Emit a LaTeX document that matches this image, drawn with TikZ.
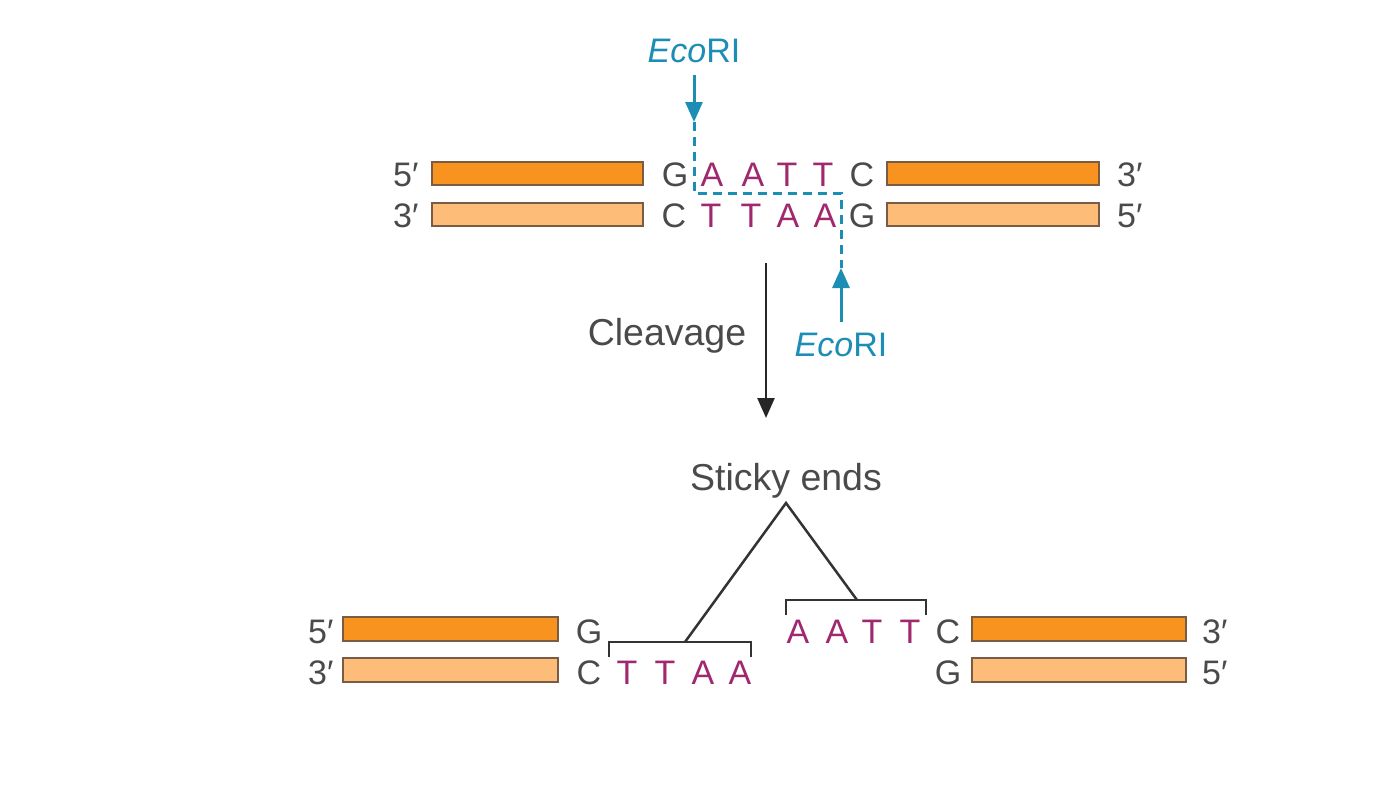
\documentclass[tikz,border=0pt]{standalone}
\usepackage{fontspec}
\setmainfont{Liberation Sans}
\usetikzlibrary{arrows.meta}
\definecolor{dorange}{HTML}{F7931E}
\definecolor{lorange}{HTML}{FDBD78}
\definecolor{barline}{HTML}{7A5C44}
\definecolor{seqmag}{HTML}{A0286E}
\definecolor{ecocyan}{HTML}{1C8DB5}
\definecolor{txtgray}{HTML}{4A4A4A}
\begin{document}
\begin{tikzpicture}[x=1pt,y=-1pt,
  lab/.style={anchor=base, inner sep=0pt, text=txtgray, font=\fontsize{34}{40}\selectfont},
  labw/.style={lab, anchor=base west},
  nt/.style={lab, text=seqmag},
  biglab/.style={anchor=base, inner sep=0pt, text=txtgray, font=\fontsize{37.5}{44}\selectfont},
  eco/.style={anchor=base, inner sep=0pt, text=ecocyan, font=\fontsize{34}{40}\selectfont},
  darkbar/.style={draw=barline, fill=dorange, line width=2pt, inner sep=0pt},
  lightbar/.style={draw=barline, fill=lorange, line width=2pt, inner sep=0pt},
  cyanarrow/.style={draw=ecocyan, line width=3pt, -{Triangle[length=20pt,width=17pt]}},
  cutline/.style={draw=ecocyan, line width=3pt, dash pattern=on 9pt off 6pt},
  mainarrow/.style={draw=black!85, line width=2.5pt, -{Triangle[length=20pt,width=17pt]}},
  brk/.style={draw=black!80, line width=2.5pt},
]
\path[use as bounding box] (0,0) rectangle (1398,795);

% ---------- top duplex ----------
\node[darkbar, minimum width=211pt, minimum height=23pt] (tl1) at (537.5,173.5) {};
\node[lightbar, minimum width=211pt, minimum height=23pt] (tl2) at (537.5,214.5) {};
\node[darkbar, minimum width=212pt, minimum height=23pt] (tr1) at (993,173.5) {};
\node[lightbar, minimum width=212pt, minimum height=23pt] (tr2) at (993,214.5) {};
\node[labw] (tp1) at (393,186) {5′};
\node[labw] (tp2) at (393,227) {3′};
\node[labw] (tp3) at (1117,186) {3′};
\node[labw] (tp4) at (1117,227) {5′};

\node[lab] (ta0) at (675,186) {G};
\foreach \x/\l/\n in {712/A/ta1, 753/A/ta2, 787/T/ta3, 823/T/ta4}
  \node[nt] (\n) at (\x,186) {\l};
\node[lab] (ta5) at (862,186) {C};

\node[lab] (tb0) at (674,227) {C};
\foreach \x/\l/\n in {711/T/tb1, 751/T/tb2, 788/A/tb3, 825/A/tb4}
  \node[nt] (\n) at (\x,227) {\l};
\node[lab] (tb5) at (862,227) {G};

% ---------- EcoRI cuts ----------
\node[eco] (eco1) at (694,62) {\textit{Eco}RI};
\coordinate (cutA) at (694,122);
\coordinate (cutB) at (841,268);
\draw[cyanarrow] ([yshift=-12pt]eco1.south) -- (cutA);
\draw[cutline] (cutA) -- (694,193) -- (841,193) -- (cutB);
\node[eco] (eco2) at (841,356) {\textit{Eco}RI};
\draw[cyanarrow] ([yshift=10pt]eco2.north) -- (cutB);

% ---------- cleavage arrow ----------
\coordinate (arrA) at (766,263);
\coordinate (arrB) at (766,418);
\draw[mainarrow] (arrA) -- (arrB);
\node[biglab] (cleav) at (667,345) {Cleavage};

% ---------- sticky ends ----------
\node[biglab] (sticky) at (786,490) {Sticky ends};
\coordinate (apex) at (786,503);
\coordinate (bl) at (685,642);
\coordinate (br) at (857,600);
\draw[brk] (609,657) -- (609,642) -- (751,642) -- (751,657);
\draw[brk] (786,615) -- (786,600) -- (926,600) -- (926,615);
\draw[brk] (bl) -- (apex) -- (br);

% ---------- bottom left fragment ----------
\node[darkbar, minimum width=215pt, minimum height=24pt] (bl1) at (450.5,629) {};
\node[lightbar, minimum width=215pt, minimum height=24pt] (bl2) at (450.5,670) {};
\node[labw] (bp1) at (308,643) {5′};
\node[labw] (bp2) at (308,684) {3′};
\node[lab] (bg1) at (589,643) {G};
\node[lab] (bc1) at (589,684) {C};
\foreach \x/\l/\n in {627/T/bt1, 665/T/bt2, 703/A/bt3, 740/A/bt4}
  \node[nt] (\n) at (\x,684) {\l};

% ---------- bottom right fragment ----------
\foreach \x/\l/\n in {798/A/ba1, 837/A/ba2, 872/T/ba3, 910/T/ba4}
  \node[nt] (\n) at (\x,643) {\l};
\node[lab] (bc2) at (948,643) {C};
\node[lab] (bg2) at (948,684) {G};
\node[darkbar, minimum width=214pt, minimum height=24pt] (br1) at (1079,629) {};
\node[lightbar, minimum width=214pt, minimum height=24pt] (br2) at (1079,670) {};
\node[labw] (bp3) at (1202,643) {3′};
\node[labw] (bp4) at (1202,684) {5′};
\end{tikzpicture}
\end{document}
